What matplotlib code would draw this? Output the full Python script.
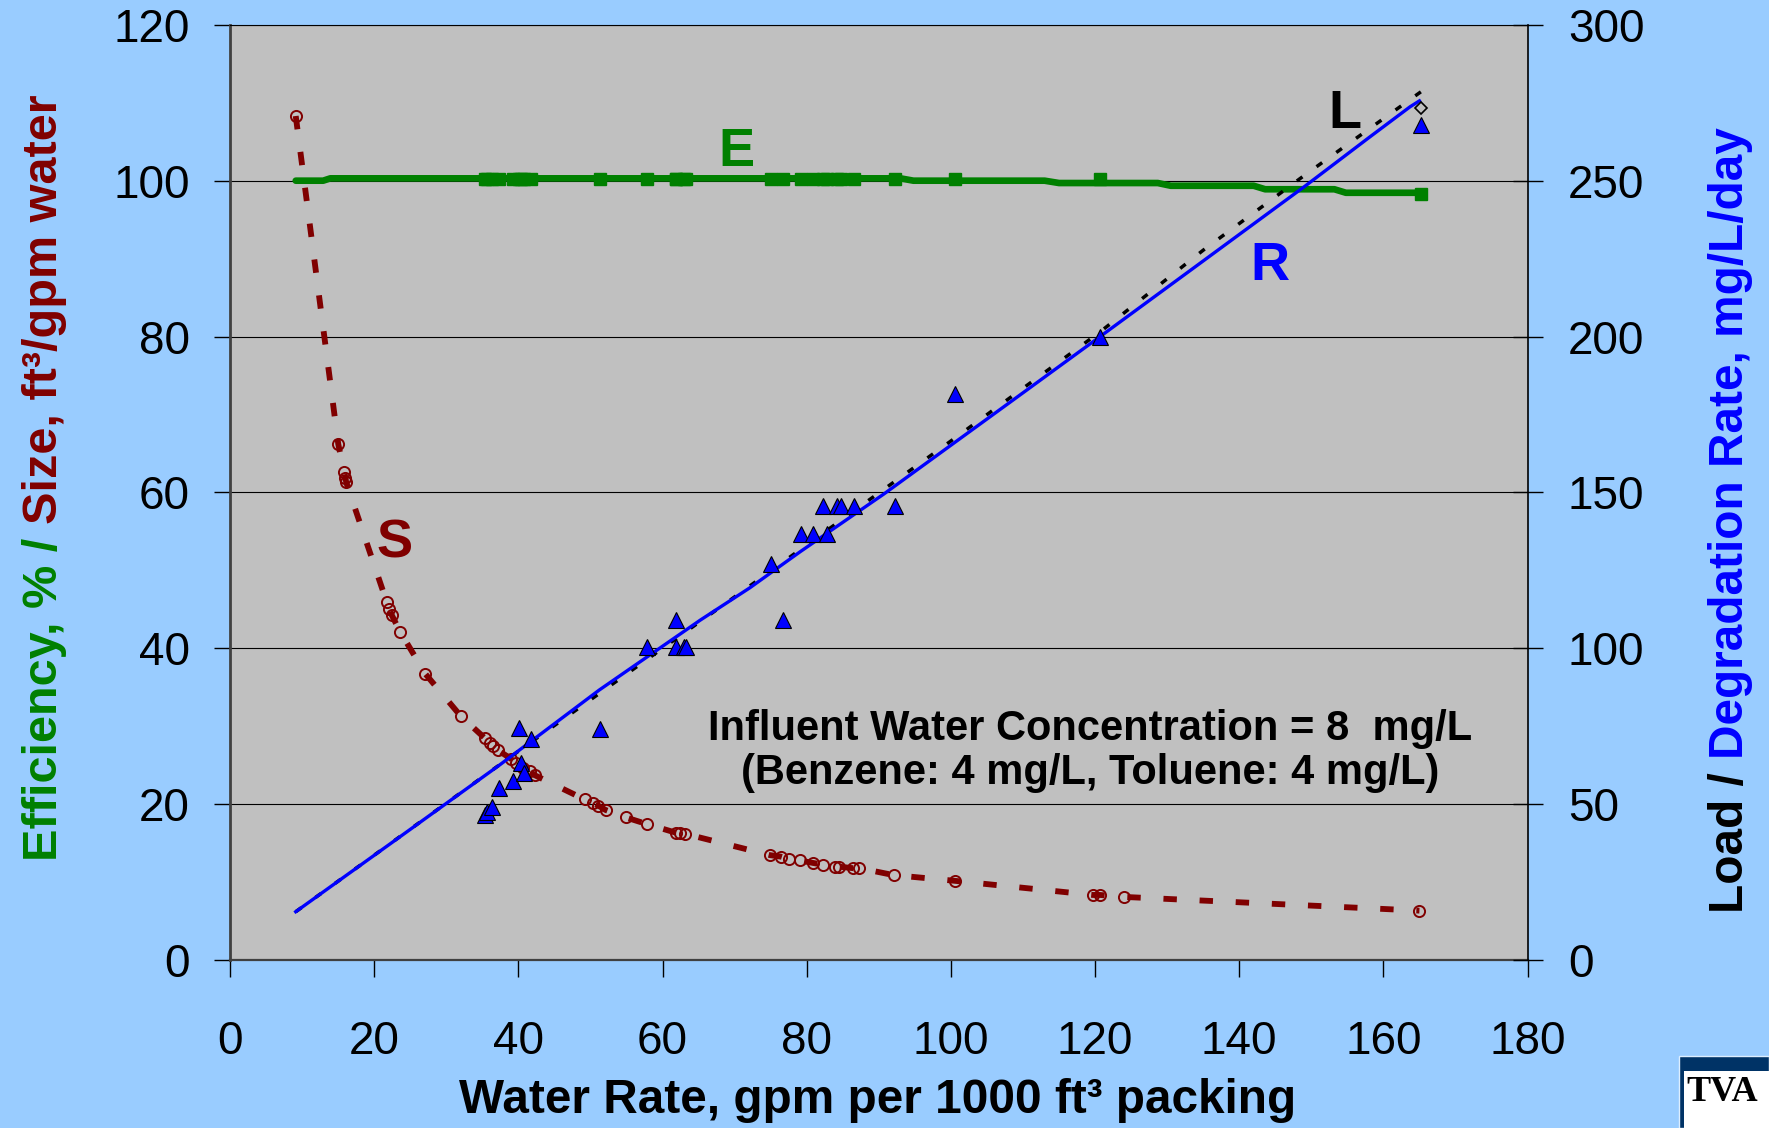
import matplotlib
matplotlib.use("Agg")
import matplotlib.pyplot as plt
import matplotlib.patches as patches

# ---- data ----
# S: bed size, ft3/gpm water (open circles + dashed line), left axis
s_x = [9.1, 15.0, 15.8, 16.0, 16.1, 21.7, 22.05, 22.4, 23.6, 27.1, 32.0, 35.35, 36.05, 36.5,
       37.2, 39.0, 39.7, 40.65, 41.6, 42.3, 49.2, 50.4, 51.1, 52.1, 54.9, 57.8, 61.8, 62.4,
       63.1, 74.9, 76.4, 77.5, 79.0, 80.8, 82.3, 83.9, 84.5, 86.4, 87.3, 92.05, 100.5, 119.7,
       120.7, 124.0, 165.0]
s_y = [108.3, 66.2, 62.65, 61.9, 61.3, 46.0, 45.1, 44.3, 42.1, 36.7, 31.3, 28.45, 27.8, 27.4,
       26.9, 25.8, 25.3, 24.6, 24.2, 23.7, 20.6, 20.1, 19.8, 19.25, 18.3, 17.45, 16.35, 16.3,
       16.2, 13.46, 13.27, 12.97, 12.78, 12.47, 12.23, 11.98, 11.98, 11.79, 11.79, 10.9, 10.17,
       8.35, 8.35, 8.1, 6.34]

# E: removal efficiency, % (model line), left axis
e_line_x = [9.1, 12.9, 13.9, 93.0, 94.8, 113.0, 115.0, 128.7, 130.5, 142.0, 143.6, 153.2, 154.8, 165.2]
e_line_y = [100.0, 100.0, 100.3, 100.3, 100.0, 100.0, 99.7, 99.7, 99.35, 99.35, 98.9, 98.9, 98.45, 98.45]

# measured points (triangles for R, squares for E share the same water rates)
pt_x = [35.35, 35.6, 36.3, 37.3, 39.3, 40.1, 40.3, 40.8, 41.8, 51.3, 57.9, 61.8, 61.9, 62.9,
        63.3, 75.0, 76.7, 79.2, 80.8, 82.8, 82.3, 84.2, 84.8, 86.5, 92.2, 100.5, 120.7, 165.2]
r_pts = [46.5, 47.5, 49.2, 55.1, 57.5, 74.3, 63.1, 59.9, 70.8, 74.0, 100.3, 109.2, 100.3, 100.3,
         100.3, 127.2, 109.2, 136.6, 136.6, 136.6, 145.8, 145.8, 145.8, 145.8, 145.8, 181.6, 199.7, 267.8]
e_pts = [100.25] * 27 + [98.25]

# R: degradation rate model, mg/L/day, right axis
r_line_x = [9.1, 23.6, 37.4, 51.2, 65.2, 72.1, 79.1, 90.7, 108.6, 120.7, 134.5, 149.1, 158.1, 163.7, 165.0]
r_line_y = [15.5, 39.6, 62.6, 86.6, 109.0, 119.4, 131.0, 149.5, 179.6, 200.0, 223.4, 248.2, 264.0, 273.7, 275.6]

# L: load, mg/L/day, right axis
l_x = [9.1, 40.0, 70.0, 100.0, 120.7, 135.0, 149.1, 165.2]
l_y = [15.5, 67.0, 116.5, 166.5, 201.5, 227.7, 251.8, 278.5]
l_end_x = [165.2]
l_end_y = [273.4]

x_ticks = list(range(0, 181, 20))
left_ticks = list(range(0, 121, 20))
right_ticks = list(range(0, 301, 50))

GREEN = '#008000'
RED = '#800000'
BLUE = '#0000FF'

plt.rcParams['font.family'] = ['Liberation Sans', 'DejaVu Sans']

fig = plt.figure(figsize=(17.69, 11.28), dpi=100, facecolor='#99CCFF')
ax = fig.add_axes([0.1301, 0.1489, 0.7334, 0.8291])
ax2 = ax.twinx()

ax.set_facecolor('#C0C0C0')
ax.set_xlim(0, 180)
ax.set_ylim(0, 120)
ax2.set_ylim(0, 300)
ax.set_xticks(x_ticks)
ax.set_yticks(left_ticks)
ax2.set_yticks(right_ticks)

ax.yaxis.grid(True, color='black', linewidth=0.8)
ax.set_axisbelow(True)

# S curve
ax.plot(s_x, s_y, color=RED, lw=4.2, dashes=(2.3, 3.9), dash_capstyle='butt', zorder=3)
ax.plot(s_x, s_y, ls='none', marker='o', ms=8, mfc='none', mec=RED, mew=1.4, zorder=4)

# E line + points
ax.plot(e_line_x, e_line_y, color=GREEN, lw=4.8, solid_capstyle='round', zorder=3)
ax.plot(pt_x, e_pts, ls='none', marker='s', ms=8.5, color=GREEN, zorder=4)

# L and R on the right axis
ax2.plot(l_x, l_y, color='black', lw=2.5, dashes=(2, 5), zorder=2)
ax2.plot(r_line_x, r_line_y, color=BLUE, lw=2.4, zorder=3)
ax2.plot(pt_x, r_pts, ls='none', marker='^', ms=11, color=BLUE, mec='black', mew=0.8, zorder=4)
ax2.plot(l_end_x, l_end_y, ls='none', marker='D', ms=6.5, mfc='none', mec='black', mew=1.2, zorder=4)

# curve letters
big = dict(fontsize=39, fontweight='bold', ha='center', va='baseline')
ax.text(70.2, 101.87, 'E', color=GREEN, **big)
ax.text(22.75, 51.6, 'S', color=RED, **big)
ax.text(154.65, 106.7, 'L', color='black', **big)
ax.text(144.2, 87.24, 'R', color=BLUE, **big)

ax.text(119.35, 28.23, 'Influent Water Concentration = 8  mg/L', fontsize=30,
        fontweight='bold', ha='center', va='baseline')
ax.text(119.35, 22.59, '(Benzene: 4 mg/L, Toluene: 4 mg/L)', fontsize=30,
        fontweight='bold', ha='center', va='baseline')

# ticks and spines
ax.tick_params(axis='y', direction='out', length=11.5, width=1, pad=17.5, labelsize=33)
ax.tick_params(axis='x', direction='out', length=12, width=1, pad=31, labelsize=33)
ax2.tick_params(axis='y', direction='inout', length=22, width=1, pad=18, labelsize=33)

ax.spines['left'].set_color('#404040')
ax.spines['left'].set_linewidth(2)
ax.spines['bottom'].set_color('#404040')
ax.spines['bottom'].set_linewidth(1.6)
ax.spines['top'].set_linewidth(0.8)
ax.spines['right'].set_visible(False)
for side in ['left', 'top', 'bottom']:
    ax2.spines[side].set_visible(False)
ax2.spines['right'].set_linewidth(1.2)

# x label
fig.text(0.4958, 0.0133, 'Water Rate, gpm per 1000 ft³ packing', fontsize=34.4,
         fontweight='bold', ha='center', va='baseline')

# two-colour rotated y labels
fig.canvas.draw()
rend = fig.canvas.get_renderer()


def stacked_label(x, y, parts, size):
    gap = 0.278 * size * fig.dpi / 72
    for txt, col in parts:
        t = fig.text(x, y, txt, rotation=90, rotation_mode='anchor', ha='left',
                     va='baseline', color=col, fontsize=size, fontweight='bold')
        bb = t.get_window_extent(rend)
        y = (bb.y1 + gap) / fig.bbox.height


stacked_label(0.0323, 0.2367, [('Efficiency, % /', GREEN), ('Size, ft³/gpm water', RED)], 35)
stacked_label(0.9853, 0.1906, [('Load /', 'black'), ('Degradation Rate, mg/L/day', BLUE)], 34.4)

# TVA logo corner
fig.add_artist(patches.Rectangle((1679 / 1769, 0), 90 / 1769, 72 / 1128, transform=fig.transFigure,
                                 fc='#003366', ec='#DDEEFF', lw=1))
fig.add_artist(patches.Rectangle((1684 / 1769, 0), 85 / 1769, 57 / 1128, transform=fig.transFigure,
                                 fc='white', ec='none'))
fig.text(1686 / 1769, 52 / 1128, 'TVA', fontsize=26, fontweight='bold', family='Liberation Serif',
         color='black', ha='left', va='top')

fig.savefig('out.png', dpi=100, facecolor=fig.get_facecolor())
